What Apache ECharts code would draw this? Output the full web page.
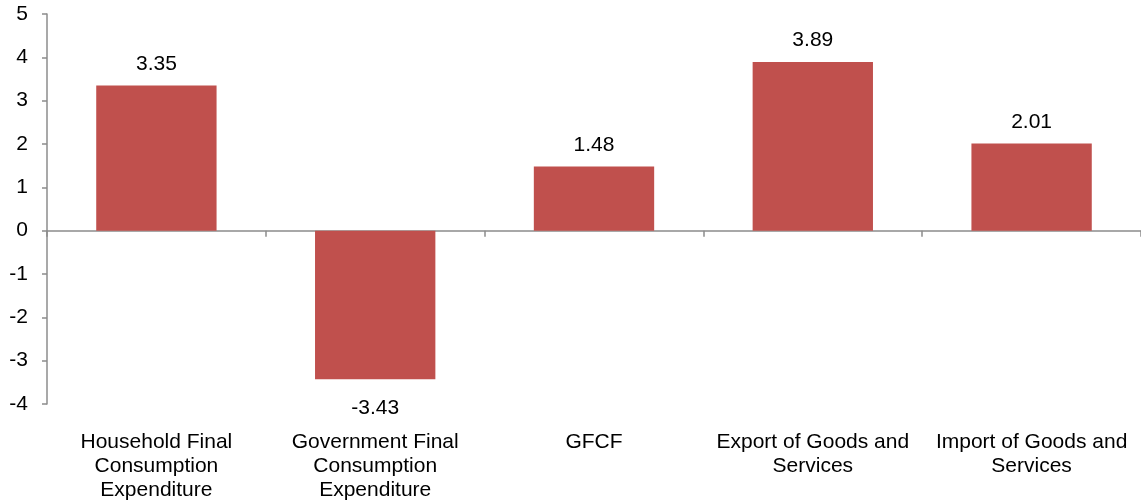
<!DOCTYPE html>
<html>
<head>
<meta charset="utf-8">
<script src="https://cdn.jsdelivr.net/npm/echarts@6/dist/echarts.min.js"></script>
<style>
html,body{margin:0;padding:0;background:#fff;}
#chart{width:1141px;height:504px;}
</style>
</head>
<body>
<div id="chart"></div>
<script>
const categories = [
  "Household Final\nConsumption\nExpenditure",
  "Government Final\nConsumption\nExpenditure",
  "GFCF",
  "Export of Goods and\nServices",
  "Import of Goods and\nServices"
];
const values = [3.35, -3.43, 1.48, 3.89, 2.01];
const yMin = -4, yMax = 5, yStep = 1;

const font = "Liberation Sans, Arial, sans-serif";
const axisColor = "#8c8c8c";

const chart = echarts.init(document.getElementById('chart'), null, {renderer: 'canvas'});
chart.setOption({
  animation: false,
  backgroundColor: '#ffffff',
  grid: {left: 47, top: 14, width: 1100, height: 390, containLabel: false},
  xAxis: [
    {
      type: 'category', data: categories, position: 'bottom',
      axisLine: {onZero: true, lineStyle: {color: axisColor, width: 1.5}},
      axisTick: {show: true, alignWithLabel: false, length: 6, lineStyle: {color: axisColor, width: 1.5}},
      axisLabel: {show: false},
      splitLine: {show: false}
    },
    {
      type: 'category', data: categories, position: 'bottom',
      axisLine: {show: false, onZero: false},
      axisTick: {show: false},
      axisLabel: {show: true, interval: 0, margin: 26, color: '#000', fontFamily: font, fontSize: 21, lineHeight: 24, align: 'center'},
      splitLine: {show: false}
    }
  ],
  yAxis: {
    type: 'value', min: yMin, max: yMax, interval: yStep,
    axisLine: {show: true, lineStyle: {color: axisColor, width: 1.5}},
    axisTick: {show: true, length: 5, lineStyle: {color: axisColor, width: 1.5}},
    axisLabel: {color: '#000', fontFamily: font, fontSize: 21, margin: 19},
    splitLine: {show: false}
  },
  series: [{
    type: 'bar',
    xAxisIndex: 0,
    barWidth: '55%',
    itemStyle: {color: '#C0504D'},
    data: values.map(v => ({
      value: v,
      label: v < 0 ? {position: 'bottom', distance: 18} : {position: 'top', distance: 11}
    })),
    label: {
      show: true, color: '#000', fontFamily: font, fontSize: 21,
      formatter: p => p.value.toFixed(2)
    }
  }]
});
</script>
</body>
</html>
